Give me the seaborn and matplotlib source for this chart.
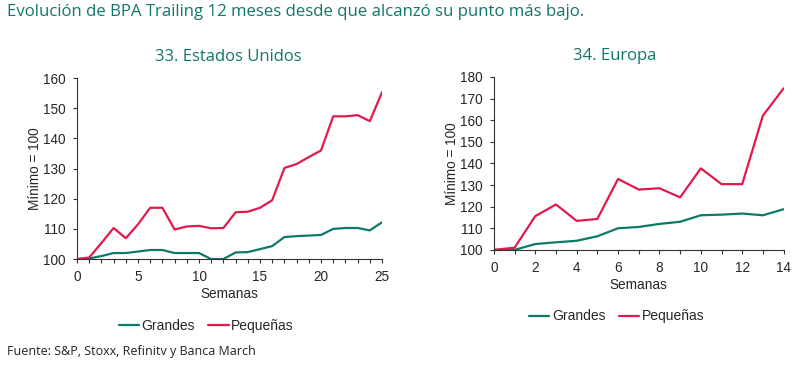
import numpy as np
import pandas as pd
import matplotlib.pyplot as plt
import seaborn as sns

# Datos (Minimo = 100)
semanas_us = list(range(26))
grandes_us = [100, 100.2, 101, 102, 102, 102.5, 103, 103, 102, 102, 102, 100, 100,
              102.2, 102.3, 103.3, 104.3, 107.3, 107.6, 107.8, 108, 110, 110.3, 110.3,
              109.5, 112.2]
pequenas_us = [100, 100.5, 105.3, 110.3, 106.9, 111.5, 117, 117, 109.8, 110.8, 111,
               110.2, 110.3, 115.5, 115.7, 117, 119.5, 130.2, 131.5, 133.8, 136,
               147.3, 147.3, 147.7, 145.7, 155.3]

semanas_eu = list(range(15))
grandes_eu = [100, 100, 102.7, 103.5, 104.2, 106.3, 110, 110.6, 112, 113, 116, 116.3,
              116.8, 116, 118.8]
pequenas_eu = [100, 101, 115.6, 121, 113.4, 114.3, 132.8, 127.9, 128.5, 124.3, 137.7,
               130.4, 130.4, 162.1, 174.7]

teal = '#0b7a68'
red = '#e21a4c'
title_color = '#13766c'

sns.set_style('white')
plt.rcParams['font.family'] = ['Liberation Sans', 'DejaVu Sans']

fig = plt.figure(figsize=(8.07, 3.68), dpi=100)

def build(x, g, p):
    return pd.DataFrame({
        'Semanas': x + x,
        'valor': g + p,
        'serie': ['Grandes'] * len(x) + ['Pequeñas'] * len(x),
    })

def draw(ax, df, xmax, ymax, xstep, title, title_x, legend_y):
    sns.lineplot(data=df, x='Semanas', y='valor', hue='serie',
                 palette={'Grandes': teal, 'Pequeñas': red},
                 linewidth=1.6, ax=ax, legend=False)
    ax.set_xlim(0, xmax)
    ax.set_ylim(100, ymax)
    ax.set_xticks(np.arange(0, xmax + 1, xstep))
    ax.set_xticks(np.arange(0, xmax + 1, 1), minor=True)
    ax.set_yticks(np.arange(100, ymax + 1, 10))
    ax.tick_params(axis='both', which='major', direction='out', length=3,
                   width=0.8, labelsize=9.8, color='#333333', pad=5)
    ax.tick_params(axis='x', which='minor', direction='out', length=3,
                   width=0.8, color='#333333')
    ax.tick_params(bottom=True, left=True, which='both')
    for s in ['top', 'right']:
        ax.spines[s].set_visible(False)
    for s in ['left', 'bottom']:
        ax.spines[s].set_color('#333333')
        ax.spines[s].set_linewidth(0.8)
    ax.set_xlabel('Semanas', fontsize=9.8, labelpad=2)
    ax.set_ylabel('Mínimo = 100', fontsize=9.8, labelpad=1)
    ax.set_title(title, fontsize=12, color=title_color, family='Open Sans',
                 pad=12, x=title_x)
    handles = [plt.Line2D([], [], color=teal, lw=1.6),
               plt.Line2D([], [], color=red, lw=1.6)]
    ax.legend(handles, ['Grandes', 'Pequeñas'], loc='center',
              bbox_to_anchor=(0.424, legend_y), ncol=2, frameon=False,
              fontsize=10, handlelength=1.45, handletextpad=0.2,
              columnspacing=0.95)

ax1 = fig.add_axes([0.0954, 0.296, 0.378, 0.492])
draw(ax1, build(semanas_us, grandes_us, pequenas_us), 25, 160, 5,
     '33. Estados Unidos', 0.495, -0.37)

ax2 = fig.add_axes([0.612, 0.321, 0.359, 0.470])
draw(ax2, build(semanas_eu, grandes_eu, pequenas_eu), 14, 180, 2,
     '34. Europa', 0.417, -0.385)

fig.text(0.009, 0.968, 'Evolución de BPA Trailing 12 meses desde que alcanzó su punto más bajo.',
         fontsize=12.1, color=title_color, family='Open Sans', ha='left', va='center')
fig.text(0.009, 0.045, 'Fuente: S&P, Stoxx, Refinitv y Banca March',
         fontsize=9, color='#222222', family='Open Sans', ha='left', va='center')

fig.savefig('out.png', dpi=100)
